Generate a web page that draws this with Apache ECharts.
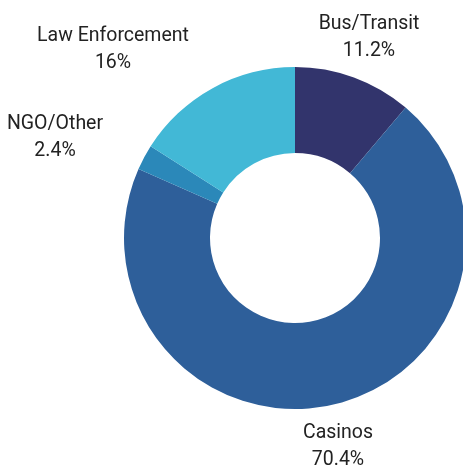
<!DOCTYPE html>
<html>
<head>
<meta charset="utf-8">
<script src="https://cdn.jsdelivr.net/npm/echarts@6/dist/echarts.min.js"></script>
<style>
html,body{margin:0;padding:0;background:#fff;}
#chart{width:463px;height:469px;}
</style>
</head>
<body>
<div id="chart"></div>
<script>
const categories = ['Bus/Transit', 'Casinos', 'NGO/Other', 'Law Enforcement'];
const values = [11.2, 70.4, 2.4, 16];
const colors = ['#32346c', '#2e5f9a', '#2b88b9', '#42b8d6'];
const labelSpots = [[369, 38], [338, 447], [55, 138], [113, 50]];

const chart = echarts.init(document.getElementById('chart'));
chart.setOption({
  animation: false,
  series: [{
    type: 'pie',
    center: [295, 238],
    radius: [85, 171],
    startAngle: 90,
    clockwise: true,
    silent: true,
    data: categories.map((c, i) => ({ name: c, value: values[i], itemStyle: { color: colors[i] } })),
    label: {
      show: true,
      position: 'outside',
      formatter: p => p.name + '\n' + p.value + '%',
      fontFamily: 'Roboto',
      fontSize: 19.5,
      lineHeight: 27,
      color: '#222',
      align: 'center',
      overflow: 'none',
      width: 200
    },
    labelLine: { show: false },
    labelLayout: function (params) {
      const s = labelSpots[params.dataIndex];
      return { x: s[0], y: s[1], align: 'center', verticalAlign: 'middle' };
    }
  }]
});
</script>
</body>
</html>
